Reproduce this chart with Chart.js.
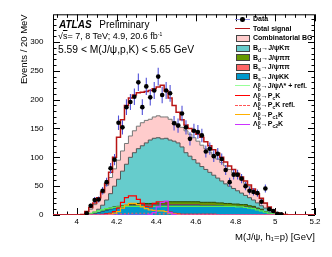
<!DOCTYPE html>
<html lang="en">
<head>
    <meta charset="UTF-8">
    <meta name="viewport" content="width=device-width, initial-scale=1.0">
    <title>J/psi p mass, Lambda_b candidates</title>
    <script src="https://cdn.jsdelivr.net/npm/chart.js"></script>
    <style>
        body { margin: 0; background: #fff; font-family: "Liberation Sans", Arial, sans-serif; color: #000; }
        #wrap { position: relative; width: 332px; height: 257px; overflow: hidden; }
        #plot { position: absolute; left: 0; top: 0; }
        .txt { position: absolute; white-space: nowrap; line-height: 1; }
        #atlas { left: 59px; top: 20.3px; font-size: 10px; }
        #atlas b { font-style: italic; margin-right: 5px; }
        #lumi { left: 58px; top: 32.3px; font-size: 9px; }
        #window { left: 58px; top: 45.3px; font-size: 10.3px; }
        .ovl { text-decoration: overline; }
        #legend { position: absolute; left: 235px; top: 14.4px; font-size: 7px; font-weight: bold; }
        .row { position: relative; height: 9.55px; line-height: 9.55px; padding-left: 18px; white-space: nowrap; }
        .sym { position: absolute; left: 0; top: 0; width: 15px; height: 9.55px; }
        .box { position: absolute; left: 1px; top: 1.5px; width: 12px; height: 5px; border: 1px solid #444; }
        .ln { position: absolute; left: 0; top: 4.2px; width: 15px; height: 0; border-top: 1.2px solid; }
        .dot { position: absolute; left: 5.2px; top: 2.6px; width: 4.6px; height: 4.6px; border-radius: 50%; background: #000; }
        .sb { font-size: 5px; vertical-align: -1.5px; }
        .sp { font-size: 5px; vertical-align: 3px; }
        .ss { display: inline-block; font-size: 5px; line-height: 4px; vertical-align: -3px; }
        .ss span { display: block; }
    </style>
</head>
<body>
<div id="wrap">
    <canvas id="plot" width="332" height="257"></canvas>

    <div class="txt" id="atlas"><b>ATLAS</b> Preliminary</div>
    <div class="txt" id="lumi">√<span class="ovl">s</span>= 7, 8 TeV; 4.9, 20.6 fb<span class="sp">-1</span></div>
    <div class="txt" id="window">5.59 &lt; M(J/ψ,p,K) &lt; 5.65 GeV</div>

    <div id="legend">
        <div class="row"><span class="sym"><span class="ln" style="border-color:#8c8ce0"></span><span class="dot"></span></span>Data</div>
        <div class="row"><span class="sym"><span class="ln" style="border-color:#b81414"></span></span>Total signal</div>
        <div class="row"><span class="sym"><span class="box" style="background:#ffcccc"></span></span>Combinatorial BG</div>
        <div class="row"><span class="sym"><span class="box" style="background:#66cccc"></span></span>B<span class="sb">d</span>→J/ψKπ</div>
        <div class="row"><span class="sym"><span class="box" style="background:#669900"></span></span>B<span class="sb">d</span>→J/ψππ</div>
        <div class="row"><span class="sym"><span class="box" style="background:#ff6666"></span></span>B<span class="sb">s</span>→J/ψππ</div>
        <div class="row"><span class="sym"><span class="box" style="background:#0099cc"></span></span>B<span class="sb">s</span>→J/ψKK</div>
        <div class="row"><span class="sym"><span class="ln" style="border-color:#99ff99"></span></span>Λ<span class="ss"><span>0</span><span>b</span></span>→J/ψΛ* + refl.</div>
        <div class="row"><span class="sym"><span class="ln" style="border-color:#ff0000"></span></span>Λ<span class="ss"><span>0</span><span>b</span></span>→P<span class="sb">c</span>K</div>
        <div class="row"><span class="sym"><span class="ln" style="border-color:#ff5555;border-top-style:dashed"></span></span>Λ<span class="ss"><span>0</span><span>b</span></span>→P<span class="sb">c</span>K refl.</div>
        <div class="row"><span class="sym"><span class="ln" style="border-color:#ffb000"></span></span>Λ<span class="ss"><span>0</span><span>b</span></span>→P<span class="sb">c1</span>K</div>
        <div class="row"><span class="sym"><span class="ln" style="border-color:#cc33ff"></span></span>Λ<span class="ss"><span>0</span><span>b</span></span>→P<span class="sb">c2</span>K</div>
    </div>
</div>

<script>
    // bin low edges, 20 MeV bins (GeV)
    const MASS_LOW = [
        3.88, 3.90, 3.92, 3.94, 3.96, 3.98, 4.00, 4.02, 4.04, 4.06,
        4.08, 4.10, 4.12, 4.14, 4.16, 4.18, 4.20, 4.22, 4.24, 4.26,
        4.28, 4.30, 4.32, 4.34, 4.36, 4.38, 4.40, 4.42, 4.44, 4.46,
        4.48, 4.50, 4.52, 4.54, 4.56, 4.58, 4.60, 4.62, 4.64, 4.66,
        4.68, 4.70, 4.72, 4.74, 4.76, 4.78, 4.80, 4.82, 4.84, 4.86,
        4.88, 4.90, 4.92, 4.94, 4.96, 4.98, 5.00, 5.02, 5.04, 5.06,
        5.08, 5.10, 5.12, 5.14, 5.16, 5.18
    ];
    const MASS_HIGH = 5.20;
    const X_TICKS = [4, 4.2, 4.4, 4.6, 4.8, 5, 5.2];
    const Y_TICKS = [0, 50, 100, 150, 200, 250, 300];

    const DATA = [
        0, 0, 0, 0, 0, 0, 0, 0, 3, 16,
        26, 27, 42, 57, 81, 96, 160, 152, 187, 196,
        205, 230, 187, 223, 204, 216, 240, 208, 216, 211,
        159, 155, 176, 152, 132, 146, 144, 138, 110, 115,
        102, 106, 97, 78, 57, 70, 70, 63, 50, 42,
        40, 38, 23, 46, 10, 7, 2, 1, 0, 0,
        0, 0, 0, 0, 0, 0
    ];
    const TOTAL_FIT = [
        0, 0, 0, 0, 0, 0, 0, 1, 6, 13,
        21, 30, 40, 54, 74, 100, 135, 165, 190, 203,
        208, 212, 213, 214, 216, 219, 222, 225, 215, 203,
        190, 178, 165, 156, 150, 145, 140, 135, 127, 120,
        113, 107, 100, 92, 85, 79, 72, 66, 59, 52,
        45, 37, 29, 21, 14, 8, 4, 2, 1, 0,
        0, 0, 0, 0, 0, 0
    ];
    // stacked components, bottom to top: BS_KK, BS_PIPI, BD_PIPI, BD_KPI, COMB_BG
    const COMB_BG = [
        0, 0, 0, 0, 0, 0, 0, 0, 5, 8,
        13, 17, 21, 25, 28, 30, 33, 35, 36, 37,
        38, 39, 40, 39, 36, 37, 38, 38, 37, 36,
        34, 33, 34, 38, 38, 38, 38, 37, 36, 35,
        34, 33, 32, 31, 29, 27, 25, 23, 21, 19,
        17, 15, 12, 8, 5, 3, 2, 1, 0, 0,
        0, 0, 0, 0, 0, 0
    ];
    const BD_KPI = [
        0, 0, 0, 0, 0, 0, 0, 0, 0, 1,
        3, 6, 10, 17, 25, 36, 47, 60, 71, 82,
        90, 95, 100, 105, 110, 113, 113, 111, 112, 107,
        105, 102, 95, 85, 79, 73, 67, 62, 57, 52,
        47, 43, 38, 34, 30, 27, 23, 20, 16, 14,
        11, 9, 6, 6, 5, 4, 2, 1, 0, 0,
        0, 0, 0, 0, 0, 0
    ];
    const BD_PIPI = [
        0, 0, 0, 0, 0, 0, 0, 0, 0, 0,
        0, 0, 1, 1, 1, 1, 1, 1, 1, 1,
        1, 2, 2, 2, 2, 2, 3, 3, 3, 5,
        5, 5, 5, 5, 5, 5, 5, 5, 5, 5,
        5, 5, 5, 5, 5, 4, 4, 4, 4, 3,
        3, 2, 2, 1, 0, 0, 0, 0, 0, 0,
        0, 0, 0, 0, 0, 0
    ];
    const BS_PIPI = [
        0, 0, 0, 0, 0, 0, 0, 0, 0, 0,
        0, 0, 0, 0, 1, 1, 1, 1, 1, 1,
        1, 1, 1, 1, 1, 1, 1, 1, 1, 1,
        1, 1, 1, 1, 1, 1, 1, 1, 1, 1,
        1, 0, 0, 0, 0, 0, 0, 0, 0, 0,
        0, 0, 0, 0, 0, 0, 0, 0, 0, 0,
        0, 0, 0, 0, 0, 0
    ];
    const BS_KK = [
        0, 0, 0, 0, 0, 0, 0, 0, 0, 1,
        2, 4, 6, 8, 10, 12, 13, 14, 15, 16,
        16, 17, 17, 17, 17, 17, 17, 17, 17, 17,
        17, 17, 17, 17, 17, 17, 17, 16, 16, 16,
        16, 16, 16, 15, 15, 15, 15, 14, 14, 13,
        12, 10, 8, 5, 3, 1, 0, 0, 0, 0,
        0, 0, 0, 0, 0, 0
    ];
    // Lambda_b components, drawn as lines
    const LB_JPSI_LSTAR = [
        0, 0, 0, 0, 0, 0, 0, 0, 1, 3,
        5, 7, 9, 11, 12, 13, 14, 15, 15, 15,
        15, 15, 15, 15, 15, 15, 15, 15, 15, 15,
        15, 15, 15, 15, 15, 15, 15, 15, 15, 15,
        15, 15, 15, 15, 15, 15, 14, 14, 13, 12,
        11, 9, 7, 5, 3, 2, 1, 0, 0, 0,
        0, 0, 0, 0, 0, 0
    ];
    const LB_PC = [
        0, 0, 0, 0, 0, 0, 0, 0, 0, 0,
        0, 0, 1, 2, 3, 6, 12, 22, 30, 33,
        33, 27, 20, 15, 14, 20, 23, 23, 23, 5,
        3, 2, 1, 1, 1, 1, 1, 1, 1, 1,
        1, 0, 0, 0, 0, 0, 0, 0, 0, 0,
        0, 0, 0, 0, 0, 0, 0, 0, 0, 0,
        0, 0, 0, 0, 0, 0
    ];
    const LB_PC_REFL = [
        0, 0, 0, 0, 0, 0, 0, 0, 0, 0,
        0, 0, 0, 0, 1, 1, 2, 2, 2, 3,
        3, 3, 3, 3, 2, 2, 2, 2, 2, 2,
        1, 1, 1, 1, 1, 1, 1, 1, 1, 1,
        1, 0, 0, 0, 0, 0, 0, 0, 0, 0,
        0, 0, 0, 0, 0, 0, 0, 0, 0, 0,
        0, 0, 0, 0, 0, 0
    ];
    const LB_PC1 = [
        0, 0, 0, 0, 0, 0, 0, 0, 0, 0,
        0, 0, 0, 0, 1, 3, 6, 12, 17, 20,
        20, 18, 14, 11, 9, 8, 7, 7, 6, 3,
        2, 1, 0, 0, 0, 0, 0, 0, 0, 0,
        0, 0, 0, 0, 0, 0, 0, 0, 0, 0,
        0, 0, 0, 0, 0, 0, 0, 0, 0, 0,
        0, 0, 0, 0, 0, 0
    ];
    const LB_PC2 = [
        0, 0, 0, 0, 0, 0, 0, 0, 0, 0,
        0, 0, 0, 0, 0, 0, 0, 0, 0, 0,
        0, 0, 0, 0, 1, 4, 14, 22, 24, 4,
        1, 0, 0, 0, 0, 0, 0, 0, 0, 0,
        0, 0, 0, 0, 0, 0, 0, 0, 0, 0,
        0, 0, 0, 0, 0, 0, 0, 0, 0, 0,
        0, 0, 0, 0, 0, 0
    ];

    const FONT = '"Liberation Sans", Arial, sans-serif';
    const BIN_HALF = (MASS_LOW[1] - MASS_LOW[0]) / 2;

    // histogram as step line: one point per low edge plus the closing edge
    function histPoints(vals) {
        const pts = MASS_LOW.map((m, i) => ({ x: m, y: vals[i] }));
        pts.push({ x: MASS_HIGH, y: vals[vals.length - 1] });
        return pts;
    }

    // cumulative sums for the stack
    let running = MASS_LOW.map(() => 0);
    const stacked = [BS_KK, BS_PIPI, BD_PIPI, BD_KPI, COMB_BG].map(arr => {
        running = running.map((v, i) => v + arr[i]);
        return running;
    });

    function stackSet(vals, fillColor, lineColor, order) {
        return {
            data: histPoints(vals), showLine: true, stepped: true, fill: 'origin',
            backgroundColor: fillColor, borderColor: lineColor, borderWidth: 1,
            pointRadius: 0, order: order
        };
    }
    function lineSet(vals, color, width, order, dash) {
        return {
            data: histPoints(vals), showLine: true, stepped: true, fill: false,
            borderColor: color, borderWidth: width, borderDash: dash || [],
            pointRadius: 0, order: order
        };
    }

    const dataPoints = MASS_LOW
        .map((m, i) => ({ x: m + BIN_HALF, y: DATA[i] }))
        .filter(p => p.y > 0);

    const datasets = [
        { data: dataPoints, showLine: false, pointRadius: 2.3, pointBackgroundColor: '#000',
          pointBorderWidth: 0, order: 0 },
        lineSet(TOTAL_FIT, '#b81414', 1.5, 1),
        lineSet(LB_PC2, '#cc33ff', 1.2, 2),
        lineSet(LB_PC1, '#ffb000', 1.2, 3),
        lineSet(LB_PC_REFL, '#ff5555', 1.2, 4, [2, 2]),
        lineSet(LB_PC, '#ff0000', 1.2, 5),
        lineSet(LB_JPSI_LSTAR, '#55ee55', 1.2, 6),
        stackSet(stacked[0], '#0099cc', '#1a5a80', 10),
        stackSet(stacked[1], '#ff6666', '#aa3333', 11),
        stackSet(stacked[2], '#669900', '#2d4a00', 12),
        stackSet(stacked[3], '#66cccc', '#555555', 13),
        stackSet(stacked[4], '#ffcccc', '#777777', 14)
    ];

    // ROOT style frame with inward ticks
    const frameTicks = {
        id: 'frameTicks',
        beforeDatasetsDraw(chart) {
            const { ctx, chartArea: a, scales: { x, y } } = chart;
            ctx.save();
            ctx.strokeStyle = '#000';
            ctx.lineWidth = 1;
            ctx.strokeRect(a.left + 0.5, a.top + 0.5, a.right - a.left - 1, a.bottom - a.top - 1);
            ctx.beginPath();
            for (let v = 0; v <= y.max; v += 10) {
                const py = Math.round(y.getPixelForValue(v)) + 0.5;
                const len = v % 50 === 0 ? 7 : 3.5;
                ctx.moveTo(a.left, py); ctx.lineTo(a.left + len, py);
                ctx.moveTo(a.right, py); ctx.lineTo(a.right - len, py);
            }
            for (let k = 0; k * 0.05 + 3.9 <= x.max + 1e-9; k++) {
                const v = 3.9 + k * 0.05;
                const px = Math.round(x.getPixelForValue(v)) + 0.5;
                const major = Math.abs(v * 5 - Math.round(v * 5)) < 1e-6;
                const len = major ? 7 : 3.5;
                ctx.moveTo(px, a.bottom); ctx.lineTo(px, a.bottom - len);
                ctx.moveTo(px, a.top); ctx.lineTo(px, a.top + len);
            }
            ctx.stroke();
            ctx.restore();
        }
    };

    // Poisson error bars, drawn just under the data markers
    const errorBars = {
        id: 'errorBars',
        beforeDatasetDraw(chart, args) {
            if (args.index !== 0) return;
            const { ctx, chartArea: a, scales: { x, y } } = chart;
            ctx.save();
            ctx.beginPath();
            ctx.rect(a.left, a.top, a.right - a.left, a.bottom - a.top);
            ctx.clip();
            ctx.strokeStyle = '#5050d8';
            ctx.lineWidth = 1.1;
            ctx.beginPath();
            chart.data.datasets[0].data.forEach(p => {
                const e = Math.sqrt(p.y);
                const px = x.getPixelForValue(p.x);
                ctx.moveTo(px, y.getPixelForValue(p.y - e));
                ctx.lineTo(px, y.getPixelForValue(p.y + e));
            });
            ctx.stroke();
            ctx.restore();
        }
    };

    new Chart(document.getElementById('plot'), {
        type: 'scatter',
        data: { datasets: datasets },
        options: {
            responsive: false,
            animation: false,
            layout: { padding: { top: 13, right: 17, bottom: 0, left: 0 } },
            plugins: { legend: { display: false }, tooltip: { enabled: false } },
            scales: {
                x: {
                    type: 'linear', min: MASS_LOW[0], max: MASS_HIGH,
                    grid: { display: false, drawTicks: false },
                    border: { display: false },
                    afterBuildTicks: s => { s.ticks = X_TICKS.map(v => ({ value: v })); },
                    afterFit: s => { s.height = 42; },
                    ticks: { padding: 2, color: '#000', autoSkip: false, maxRotation: 0,
                             font: { family: FONT, size: 8 }, callback: v => String(v) },
                    title: { display: true, text: 'M(J/ψ, h₁=p) [GeV]', align: 'end', color: '#000',
                             font: { family: FONT, size: 9.5 }, padding: { top: 0, bottom: 14 } }
                },
                y: {
                    min: 0, max: 348,
                    grid: { display: false, drawTicks: false },
                    border: { display: false },
                    afterBuildTicks: s => { s.ticks = Y_TICKS.map(v => ({ value: v })); },
                    afterFit: s => { s.width = 53; },
                    ticks: { padding: 9.5, color: '#000', autoSkip: false,
                             font: { family: FONT, size: 8 }, callback: v => String(v) },
                    title: { display: true, text: 'Events / 20 MeV', align: 'end', color: '#000',
                             font: { family: FONT, size: 9.5 }, padding: { top: 19, bottom: 0 } }
                }
            }
        },
        plugins: [frameTicks, errorBars]
    });
</script>
</body>
</html>
